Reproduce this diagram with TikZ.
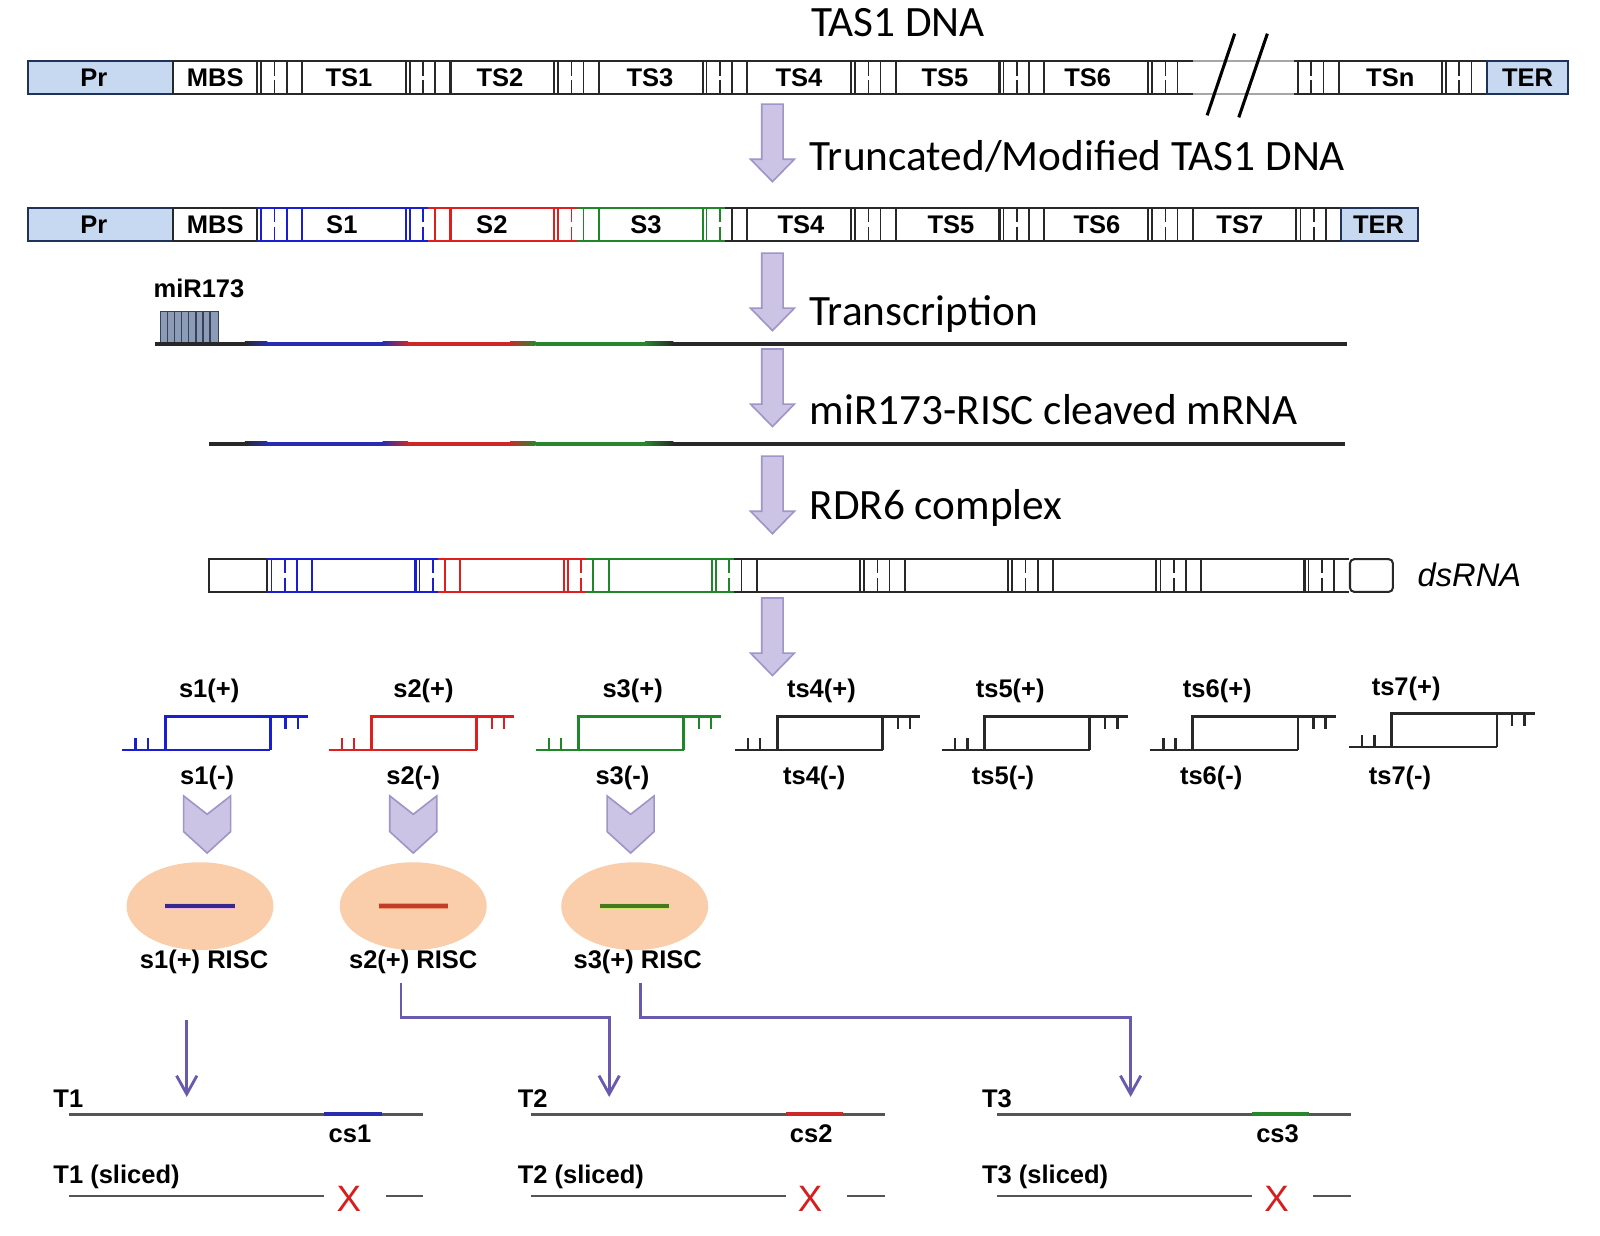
\documentclass[tikz,border=0pt]{standalone}
\usepackage{fontspec}
\setmainfont{Liberation Sans}
\newfontfamily\calib{Carlito}
\usetikzlibrary{arrows.meta,shapes.geometric}
\definecolor{sblue}{RGB}{25,30,210}
\definecolor{sred}{RGB}{225,30,30}
\definecolor{sgreen}{RGB}{30,135,40}
\definecolor{lblue}{RGB}{40,45,175}
\definecolor{lred}{RGB}{205,40,40}
\definecolor{lgreen}{RGB}{40,135,45}
\definecolor{prfill}{RGB}{198,217,240}
\definecolor{prdraw}{RGB}{30,50,90}
\definecolor{lav}{RGB}{204,196,228}
\definecolor{lavd}{RGB}{160,148,200}
\definecolor{peach}{RGB}{250,206,170}
\definecolor{purp}{RGB}{105,90,175}
\definecolor{darkline}{RGB}{40,40,40}
\definecolor{tline}{RGB}{85,85,85}
\definecolor{mirfill}{RGB}{140,156,182}
\definecolor{mirline}{RGB}{55,65,90}
\definecolor{r1dark}{RGB}{55,40,140}
\definecolor{r1glow}{RGB}{235,185,225}
\definecolor{r2dark}{RGB}{195,60,40}
\definecolor{r2glow}{RGB}{245,150,110}
\definecolor{r3dark}{RGB}{70,120,30}
\definecolor{r3glow}{RGB}{205,230,110}
\definecolor{xred}{RGB}{215,30,30}
\tikzset{
  lab/.style={font=\fontsize{12.5}{14}\selectfont\bfseries, inner sep=0pt},
  big/.style={font=\calib\fontsize{21.2}{24}\selectfont, inner sep=0pt, anchor=west},
  tlab/.style={font=\fontsize{12.5}{14}\selectfont\bfseries, inner sep=0pt, anchor=west},
  bar/.style={line width=1pt},
  tl/.style={draw=tline, line width=1.3pt},
  conn/.style={draw=purp, line width=1.4pt, -{Straight Barb[length=9pt,width=10pt]}},
  risc/.style={ellipse, fill=peach, minimum width=72pt, minimum height=43pt, inner sep=0pt},
  xmark/.style={text=xred, font=\fontsize{18}{20}\selectfont, inner sep=0pt},
  pics/downarr/.style={code={
    \filldraw[fill=lav, draw=lavd, line width=0.8pt] (-10.5,0) -- (10.5,0) -- (10.5,54) -- (21.5,54) -- (0,76) -- (-21.5,54) -- (-10.5,54) -- cycle;
  }},
  pics/chev/.style={code={
    \filldraw[fill=lav, draw=lavd, line width=0.8pt] (-23,0) -- (0,18) -- (23,0) -- (23,35) -- (0,56) -- (-23,35) -- cycle;
  }},
  pics/frag/.style={code={
    \draw[line width=1.4pt] (0,0) -- (145,0);
    \draw[line width=1.4pt] (42,0) -- (42,-33) -- (182,-33);
    \draw[line width=1.4pt] (145,-33) -- (145,0);
    \draw[line width=1.2pt] (13,0) -- (13,-12) (25,0) -- (25,-12);
    \draw[line width=1.2pt] (160,-33) -- (160,-21) (172,-33) -- (172,-21);
  }},
  pics/spc/.style n args={2}{code={
    \draw[#1, bar] (0,0) -- (22,0) (0,32) -- (22,32);
    \draw[#2, bar] (22,0) -- (44,0) (22,32) -- (44,32);
    \draw[#1, line width=0.8pt] (4,0) -- (4,32);
    \draw[#1, line width=0.8pt, dash pattern=on 7pt off 2pt on 7pt] (17,0) -- (17,32);
    \draw[#2, line width=0.8pt] (29,0) -- (29,32);
  }},
}
\begin{document}
\begin{tikzpicture}[x=0.5pt,y=-0.5pt]
\useasboundingbox (0,0) rectangle (1568,1211);

% ---------- Row 1: TAS1 DNA ----------
\node[font=\calib\fontsize{21.2}{24}\selectfont, inner sep=0pt] (title) at (880,22) {TAS1 DNA};
\filldraw[fill=prfill, draw=prdraw, bar] (27,60) rectangle (170,92);
\node[lab] (pr1) at (92,76) {Pr};
\filldraw[fill=white, draw=darkline, bar] (170,60) rectangle (252,92);
\node[lab] (mbs1) at (211,76) {MBS};
\foreach \k/\t/\tx in {0/TS1/342,1/TS2/490,2/TS3/637,3/TS4/783,4/TS5/926,5/TS6/1066} {
  \pgfmathsetmacro\sx{252+\k*145.5}
  \pic at (\sx,60) {spc={darkline}{darkline}};
  \draw[bar, darkline] (\sx+44,60) rectangle (\sx+145.5,92);
  \node[lab] (ra\k) at (\tx,76) {\t};
}
\pic at (1125,60) {spc={darkline}{darkline}};
\draw[bar, gray!70] (1169,60) -- (1268,60) (1169,92) -- (1268,92);
\pic at (1268,60) {spc={darkline}{darkline}};
\draw[bar, darkline] (1312,60) rectangle (1413,92);
\node[lab] (tsn) at (1362.5,76) {TSn};
\pic at (1413,60) {spc={darkline}{darkline}};
\filldraw[fill=prfill, draw=prdraw, bar] (1457,60) rectangle (1537,92);
\node[lab] (ter1) at (1497,76) {TER};
\draw[line width=1.5pt] (1183,113) -- (1210,33);
\draw[line width=1.5pt] (1214,115) -- (1242,33);

% arrow 1
\pic at (757,102) {downarr};
\node[big] (l1) at (793,153) {Truncated/Modified TAS1 DNA};

% ---------- Row 2 ----------
\filldraw[fill=prfill, draw=prdraw, bar] (27,204) rectangle (170,236);
\node[lab] (pr2) at (92,220) {Pr};
\filldraw[fill=white, draw=darkline, bar] (170,204) rectangle (252,236);
\node[lab] (mbs2) at (211,220) {MBS};
\foreach \k/\t/\tx/\ca/\cb in {0/S1/335/sblue/sblue,1/S2/482/sblue/sred,2/S3/633/sred/sgreen,3/TS4/785/sgreen/darkline,4/TS5/932/darkline/darkline,5/TS6/1075/darkline/darkline,6/TS7/1215/darkline/darkline} {
  \pgfmathsetmacro\sx{252+\k*145.5}
  \pic at (\sx,204) {spc={\ca}{\cb}};
  \draw[bar, \cb] (\sx+44,204) rectangle (\sx+145.5,236);
  \node[lab] (rb\k) at (\tx,220) {\t};
}
\pic at (1270.5,204) {spc={darkline}{darkline}};
\filldraw[fill=prfill, draw=prdraw, bar] (1314.5,204) rectangle (1390,236);
\node[lab] (ter2) at (1351,220) {TER};

% arrow 2
\pic at (757,248) {downarr};
\node[big] (l2) at (793,308) {Transcription};

% transcript with miR173
\node[lab] (mir) at (195,283) {miR173};
\filldraw[fill=mirfill, draw=mirline, line width=0.6pt] (157,305) rectangle (214,337);
\foreach \i in {164,171,178,185,192,199,206} { \draw[mirline, line width=0.7pt] (\i,305) -- (\i,337); }
\fill[darkline] (152,335) rectangle (240,339);
\shade[left color=darkline, right color=lblue] (240,335) rectangle (262,339);
\fill[lblue] (262,335) rectangle (375,339);
\shade[left color=lblue, right color=lred] (375,335) rectangle (400,339);
\fill[lred] (400,335) rectangle (500,339);
\shade[left color=lred, right color=lgreen] (500,335) rectangle (525,339);
\fill[lgreen] (525,335) rectangle (632,339);
\shade[left color=lgreen, right color=darkline] (632,335) rectangle (660,339);
\fill[darkline] (660,335) rectangle (1320,339);

% arrow 3
\pic at (757,342) {downarr};
\node[big] (l3) at (793,401) {miR173-RISC cleaved mRNA};

\fill[darkline] (205,433) rectangle (240,437);
\shade[left color=darkline, right color=lblue] (240,433) rectangle (262,437);
\fill[lblue] (262,433) rectangle (375,437);
\shade[left color=lblue, right color=lred] (375,433) rectangle (400,437);
\fill[lred] (400,433) rectangle (500,437);
\shade[left color=lred, right color=lgreen] (500,433) rectangle (525,437);
\fill[lgreen] (525,433) rectangle (632,437);
\shade[left color=lgreen, right color=darkline] (632,433) rectangle (660,437);
\fill[darkline] (660,433) rectangle (1318,437);

% arrow 4
\pic at (757,447) {downarr};
\node[big] (l4) at (793,498) {RDR6 complex};

% ---------- dsRNA ----------
\draw[bar, darkline] (205,548) rectangle (262,580);
\foreach \k/\ca/\cb in {0/sblue/sblue,1/sblue/sred,2/sred/sgreen,3/sgreen/darkline,4/darkline/darkline,5/darkline/darkline,6/darkline/darkline} {
  \pgfmathsetmacro\sx{262+\k*145.2}
  \pic at (\sx,548) {spc={\ca}{\cb}};
  \draw[bar, \cb] (\sx+44,548) rectangle (\sx+145.2,580);
}
\pic at (1278.4,548) {spc={darkline}{darkline}};
\draw[bar, darkline, rounded corners=2pt] (1323,548) rectangle (1365,580);
\node[font=\fontsize{16}{18}\selectfont\itshape, inner sep=0pt] (ds) at (1440,563) {dsRNA};

% arrow 5
\pic at (757,586) {downarr};

% ---------- fragments ----------
\pic[sblue] at (120,735) {frag};
\pic[sred] at (322,735) {frag};
\pic[sgreen] at (525,735) {frag};
\pic[darkline] at (720,735) {frag};
\pic[darkline] at (923,735) {frag};
\pic[darkline] at (1127,735) {frag};
\pic[darkline] at (1322,732) {frag};
\node[lab] (p1) at (205,677) {s1(+)};
\node[lab] (p2) at (415,677) {s2(+)};
\node[lab] (p3) at (620,677) {s3(+)};
\node[lab] (p4) at (805,677) {ts4(+)};
\node[lab] (p5) at (990,677) {ts5(+)};
\node[lab] (p6) at (1193,677) {ts6(+)};
\node[lab] (p7) at (1378,675) {ts7(+)};
\node[lab] (m1) at (203,762) {s1(-)};
\node[lab] (m2) at (405,762) {s2(-)};
\node[lab] (m3) at (610,762) {s3(-)};
\node[lab] (m4) at (798,762) {ts4(-)};
\node[lab] (m5) at (983,762) {ts5(-)};
\node[lab] (m6) at (1187,762) {ts6(-)};
\node[lab] (m7) at (1372,762) {ts7(-)};

% chevrons
\pic at (203,780) {chev};
\pic at (405,780) {chev};
\pic at (618,780) {chev};

% RISC ellipses
\node[risc] (e1) at (196,888) {};
\node[risc] (e2) at (405,888) {};
\node[risc] (e3) at (622,888) {};
\draw[line width=3.2pt, r1glow] (162,888) -- (230,888);
\draw[line width=1.8pt, r1dark] (162,888) -- (230,888);
\draw[line width=3.2pt, r2glow] (371,888) -- (439,888);
\draw[line width=1.8pt, r2dark] (371,888) -- (439,888);
\draw[line width=3.2pt, r3glow] (588,888) -- (656,888);
\draw[line width=1.8pt, r3dark] (588,888) -- (656,888);
\node[lab] (k1) at (200,943) {s1(+) RISC};
\node[lab] (k2) at (405,943) {s2(+) RISC};
\node[lab] (k3) at (625,943) {s3(+) RISC};

% connectors
\coordinate (c1a) at (183,1000);
\coordinate (c1b) at (183,1075);
\coordinate (c2a) at (393,963);
\coordinate (c2b) at (597,1075);
\coordinate (c3a) at (628,963);
\coordinate (c3b) at (1108,1075);
\draw[conn] (c1a) -- (c1b);
\draw[conn] (c2a) -- (393,997) -- (597,997) -- (c2b);
\draw[conn] (c3a) -- (628,997) -- (1108,997) -- (c3b);

% ---------- targets ----------
\foreach \i/\bx/\lx/\col in {1/68/52/lblue,2/520/507/lred,3/977/962/lgreen} {
  \node[tlab] (t\i) at (\lx,1077) {T\i};
  \draw[tl] (\bx,1092) -- (\bx+347,1092);
  \draw[\col, line width=1.8pt] (\bx+250,1092) -- (\bx+306,1092);
  \node[lab] (cs\i) at (\bx+275,1111) {cs\i};
  \node[tlab] (ts\i) at (\lx,1153) {T\i{} (sliced)};
  \draw[tl] (\bx,1172) -- (\bx+250,1172);
  \draw[tl] (\bx+310,1172) -- (\bx+347,1172);
  \node[xmark] (x\i) at (\bx+274,1175) {X};
}
\end{tikzpicture}
\end{document}
